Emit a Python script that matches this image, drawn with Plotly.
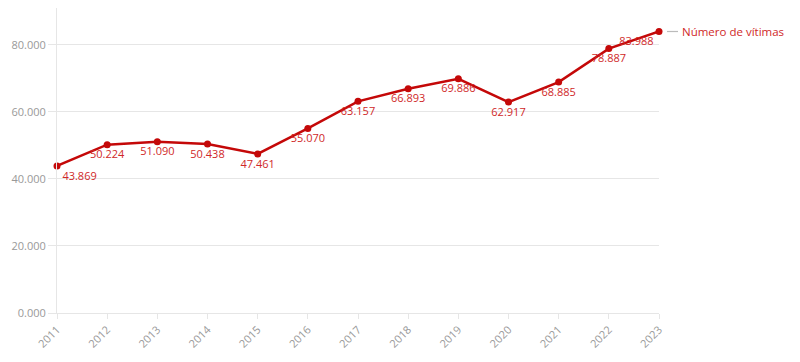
import plotly.graph_objects as go

years = [2011, 2012, 2013, 2014, 2015, 2016, 2017, 2018, 2019, 2020, 2021, 2022, 2023]
vitimas = [43869, 50224, 51090, 50438, 47461, 55070, 63157, 66893, 69886, 62917, 68885, 78887, 83988]
label_pos = ["bottom right"] + ["bottom center"] * 11 + ["bottom left"]
y_tickvals = [0, 20000, 40000, 60000, 80000]
y_ticktext = ["0.000", "20.000", "40.000", "60.000", "80.000"]
series_name = "Número de vítimas"

RED = "#c40808"
LABEL_RED = "#d02828"
FONT = "Open Sans, Noto Sans, sans-serif"

fig = go.Figure()
fig.add_trace(go.Scatter(
    x=years, y=vitimas, mode="lines+markers+text",
    line=dict(color=RED, width=2.5),
    marker=dict(color=RED, size=7),
    texttemplate="%{y:,d}", textposition=label_pos,
    textfont=dict(color=LABEL_RED, size=11, family=FONT),
    cliponaxis=False, hoverinfo="x+y", showlegend=False,
))

fig.add_shape(type="line", xref="paper", yref="y",
              x0=1 + 8 / 602, x1=1 + 19 / 602, y0=vitimas[-1], y1=vitimas[-1],
              line=dict(color="#bbbbbb", width=1.2))
fig.add_annotation(xref="paper", yref="y", x=1 + 21 / 602, y=vitimas[-1],
                   text=series_name, showarrow=False, xanchor="left", yanchor="middle",
                   font=dict(color=LABEL_RED, size=11.5, family=FONT))

fig.update_layout(
    width=800, height=362,
    margin=dict(l=57, r=141, t=8, b=49),
    plot_bgcolor="white", paper_bgcolor="white",
    separators=",.",
    font=dict(family=FONT, color="#999999", size=11),
    xaxis=dict(range=[2011, 2023], tickvals=years, tickangle=-45, automargin=False,
               showgrid=False, showline=True, linecolor="#e6e6e6", linewidth=1,
               ticks="outside", ticklen=5, tickcolor="#e6e6e6",
               tickfont=dict(color="#999999", size=11), zeroline=False),
    yaxis=dict(range=[0, 91000], tickvals=y_tickvals, ticktext=y_ticktext, automargin=False,
               showgrid=True, gridcolor="#e6e6e6", showline=True, linecolor="#e6e6e6",
               ticks="outside", ticklen=8, tickcolor="#e6e6e6",
               tickfont=dict(color="#999999", size=11), zeroline=False),
)

fig.write_html("out.html", post_script="document.body.style.margin='0';",
               config={"displayModeBar": False})
